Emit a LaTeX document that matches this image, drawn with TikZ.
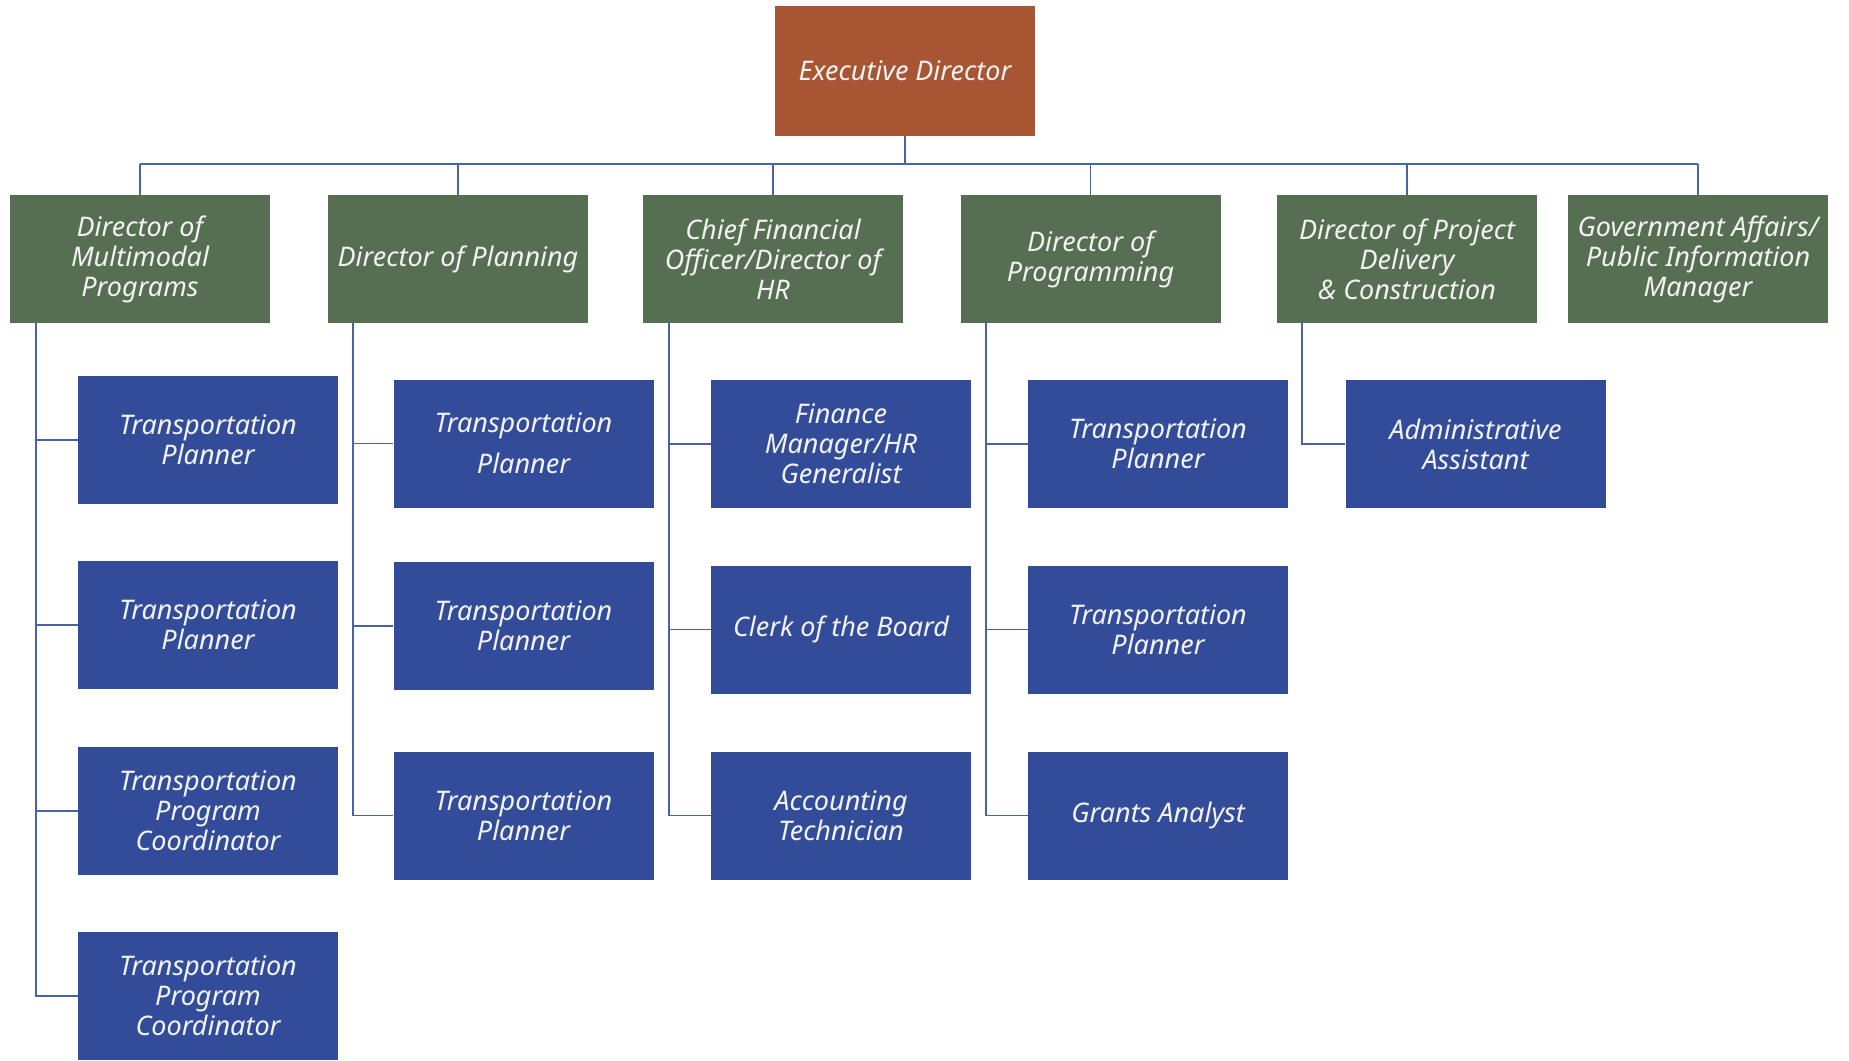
\documentclass[tikz,border=0pt]{standalone}
\usepackage{fontspec}
\setmainfont{Noto Sans}
\definecolor{execred}{HTML}{A75533}
\definecolor{leadgreen}{HTML}{566E51}
\definecolor{staffblue}{HTML}{334C9A}
\definecolor{linkblue}{HTML}{4A62A6}
\tikzset{
  box/.style={rectangle, minimum width=260pt, minimum height=128pt, inner sep=0pt,
    align=center, text=white!95!black, font=\itshape\fontsize{27}{30}\selectfont},
  lead/.style={box, fill=leadgreen},
  staff/.style={box, fill=staffblue},
  conn/.style={draw=linkblue, line width=1.6pt},
}
\begin{document}
\begin{tikzpicture}[x=1pt,y=-1pt]
    \useasboundingbox (0,0) rectangle (1849,1060);

    \node (exec) at (905,71) [box, fill=execred, minimum height=130pt] {Executive Director};

    \node (multi) at (140,259) [lead] {Director of\\Multimodal\\Programs};
    \node (plan) at (458,259) [lead] {Director of Planning};
    \node (cfo) at (773,259) [lead] {Chief Financial\\Officer/Director of\\HR};
    \node (prog) at (1090.5,259) [lead] {Director of\\Programming};
    \node (deliv) at (1407,259) [lead] {Director of Project\\Delivery\\\& Construction};
    \node (gov) at (1698,259) [lead] {Government Affairs/\\Public Information\\Manager};

    \node (multiA) at (208,440) [staff] {Transportation\\Planner};
    \node (multiB) at (208,625) [staff] {Transportation\\Planner};
    \node (multiC) at (208,811) [staff] {Transportation\\Program\\Coordinator};
    \node (multiD) at (208,996) [staff] {Transportation\\Program\\Coordinator};

    \node (planA) at (523.5,443.5) [staff] {Transportation\\[11pt]Planner};
    \node (planB) at (523.5,626) [staff] {Transportation\\Planner};
    \node (planC) at (523.5,815.5) [staff] {Transportation\\Planner};

    \node (cfoA) at (841,444) [staff] {Finance\\Manager/HR\\Generalist};
    \node (cfoB) at (841,629.5) [staff] {Clerk of the Board};
    \node (cfoC) at (841,815.5) [staff] {Accounting\\Technician};

    \node (progA) at (1158,444) [staff] {Transportation\\Planner};
    \node (progB) at (1158,629.5) [staff] {Transportation\\Planner};
    \node (progC) at (1158,815.5) [staff] {Grants Analyst};

    \node (delivA) at (1475.5,444) [staff] {Administrative\\Assistant};

    % bus below the executive director
    \coordinate (bus) at (905,164);
    \draw[conn] (exec) -- (bus);
    \draw[conn] (multi.north |- bus) -- (gov.north |- bus);
    \foreach \d in {multi,plan,cfo,prog,deliv,gov}
      \draw[conn] (\d.north |- bus) -- (\d.north);

    % trunks down the left of each column
    \coordinate (multiT) at (36,323);
    \coordinate (planT) at (353,323);
    \coordinate (cfoT) at (669,323);
    \coordinate (progT) at (986,323);
    \coordinate (delivT) at (1302,323);

    \foreach \s in {multiA,multiB,multiC,multiD}
      \draw[conn] (multiT) |- (\s.west);
    \foreach \s in {planA,planB,planC}
      \draw[conn] (planT) |- (\s.west);
    \foreach \s in {cfoA,cfoB,cfoC}
      \draw[conn] (cfoT) |- (\s.west);
    \foreach \s in {progA,progB,progC}
      \draw[conn] (progT) |- (\s.west);
    \draw[conn] (delivT) |- (delivA.west);

  \end{tikzpicture}
\end{document}
